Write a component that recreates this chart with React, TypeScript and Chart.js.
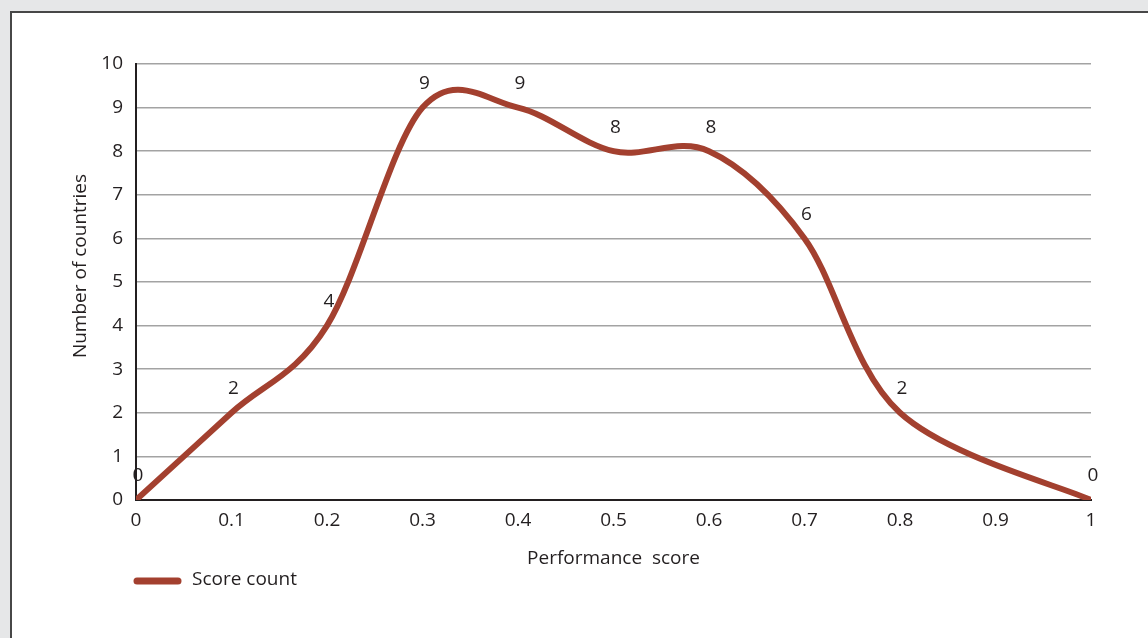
import React, { useEffect, useRef } from "react";
import { Chart, registerables } from "chart.js";

Chart.register(...registerables);

const scores = [0, 0.1, 0.2, 0.3, 0.4, 0.5, 0.6, 0.7, 0.8, 1];
const counts = [0, 2, 4, 9, 9, 8, 8, 6, 2, 0];
const xTicks = [0, 0.1, 0.2, 0.3, 0.4, 0.5, 0.6, 0.7, 0.8, 0.9, 1];
const seriesName = "Score count";
const xTitle = "Performance  score";
const yTitle = "Number of countries";

const FONT = "'Open Sans', 'Noto Sans', sans-serif";
const FS = 19;
const TEXT = "#231f20";
const LINE = "#a3402f";

// Uniform Catmull-Rom style smoothing (office-chart look), computed from the
// pixel positions that the library's scales gave the points.
const smoothPlugin = {
  id: "smooth",
  beforeDatasetDraw(chart: any, args: any) {
    const meta = chart.getDatasetMeta(args.index);
    const line = meta.dataset;
    if (!line) return;
    line.updateControlPoints(chart.chartArea, "x");
    const pts = meta.data;
    for (let i = 0; i < pts.length; i++) {
      const p = pts[i];
      const prev = pts[i - 1] || p;
      const next = pts[i + 1] || p;
      const dx = (next.x - prev.x) / 6;
      const dy = (next.y - prev.y) / 6;
      p.cp1x = p.x - dx;
      p.cp1y = p.y - dy;
      p.cp2x = p.x + dx;
      p.cp2y = p.y + dy;
    }
  },
};

const labelsPlugin = {
  id: "pointLabels",
  afterDatasetsDraw(chart: any) {
    const ctx = chart.ctx;
    const meta = chart.getDatasetMeta(0);
    ctx.save();
    ctx.font = `${FS}px ${FONT}`;
    ctx.fillStyle = TEXT;
    ctx.textAlign = "center";
    ctx.textBaseline = "middle";
    meta.data.forEach((pt: any, i: number) => {
      ctx.fillText(String(counts[i]), pt.x + 2, pt.y - 24);
    });
    ctx.restore();
  },
};

const extrasPlugin = {
  id: "extras",
  afterDraw(chart: any) {
    const ctx = chart.ctx;
    const area = chart.chartArea;
    ctx.save();
    ctx.font = `${FS}px ${FONT}`;
    ctx.fillStyle = TEXT;
    ctx.textAlign = "center";
    ctx.textBaseline = "middle";
    ctx.translate(81, 266);
    ctx.rotate(-Math.PI / 2);
    ctx.fillText(yTitle, 0, 0);
    ctx.restore();
    // legend
    ctx.save();
    const ds = chart.data.datasets[0];
    ctx.strokeStyle = ds.borderColor;
    ctx.lineWidth = 7;
    ctx.lineCap = "round";
    ctx.beginPath();
    ctx.moveTo(area.left + 1, 581);
    ctx.lineTo(area.left + 42, 581);
    ctx.stroke();
    ctx.font = `${FS}px ${FONT}`;
    ctx.fillStyle = TEXT;
    ctx.textAlign = "left";
    ctx.textBaseline = "middle";
    ctx.fillText(ds.label, area.left + 56, 580);
    ctx.restore();
  },
};

export default function App() {
  const ref = useRef<HTMLCanvasElement | null>(null);
  useEffect(() => {
    if (!ref.current) return;
    const chart = new Chart(ref.current, {
      type: "scatter",
      data: {
        datasets: [
          {
            label: seriesName,
            data: scores.map((x, i) => ({ x, y: counts[i] })),
            showLine: true,
            borderColor: LINE,
            backgroundColor: LINE,
            borderWidth: 6,
            borderCapStyle: "round",
            borderJoinStyle: "round",
            tension: 0.4,
            pointRadius: 0,
            pointHoverRadius: 0,
          } as any,
        ],
      },
      options: {
        responsive: false,
        animation: false,
        devicePixelRatio: 1,
        layout: { padding: { left: 0, right: 57, top: 64, bottom: 0 } },
        plugins: { legend: { display: false }, tooltip: { enabled: false } },
        scales: {
          x: {
            type: "linear",
            min: 0,
            max: 1,
            afterBuildTicks: (s: any) => {
              s.ticks = xTicks.map((v) => ({ value: v }));
            },
            afterFit: (s: any) => {
              s.height = 138;
            },
            ticks: {
              color: TEXT,
              font: { family: FONT, size: FS },
              padding: 9,
              maxRotation: 0,
              autoSkip: false,
              callback: (v: any) => String(Math.round(Number(v) * 10) / 10),
            },
            grid: { display: false, drawTicks: false },
            border: { display: true, color: "#231f20", width: 2 },
            title: {
              display: true,
              text: xTitle,
              color: TEXT,
              font: { family: FONT, size: FS },
              padding: { top: 0, bottom: 68 },
            },
          },
          y: {
            min: 0,
            max: 10,
            afterFit: (s: any) => {
              s.width = 136;
            },
            ticks: {
              stepSize: 1,
              color: TEXT,
              font: { family: FONT, size: FS },
              padding: 13,
            },
            grid: { color: "#a3a3a3", lineWidth: 1.5, drawTicks: false },
            border: { display: true, color: "#231f20", width: 2 },
          },
        },
      },
      plugins: [smoothPlugin, labelsPlugin, extrasPlugin],
    } as any);
    return () => chart.destroy();
  }, []);

  return (
    <div style={{ position: "fixed", left: 0, top: 0, width: 1148, height: 638, background: "#e6e7e8", overflow: "hidden" }}>
      <div
        style={{
          position: "absolute",
          left: 10,
          top: 11,
          width: 1160,
          height: 660,
          background: "#ffffff",
          borderTop: "2px solid #474747",
          borderLeft: "2px solid #474747",
        }}
      />
      <canvas ref={ref} width={1148} height={638} style={{ position: "absolute", left: 0, top: 0, width: 1148, height: 638 }} />
    </div>
  );
}
